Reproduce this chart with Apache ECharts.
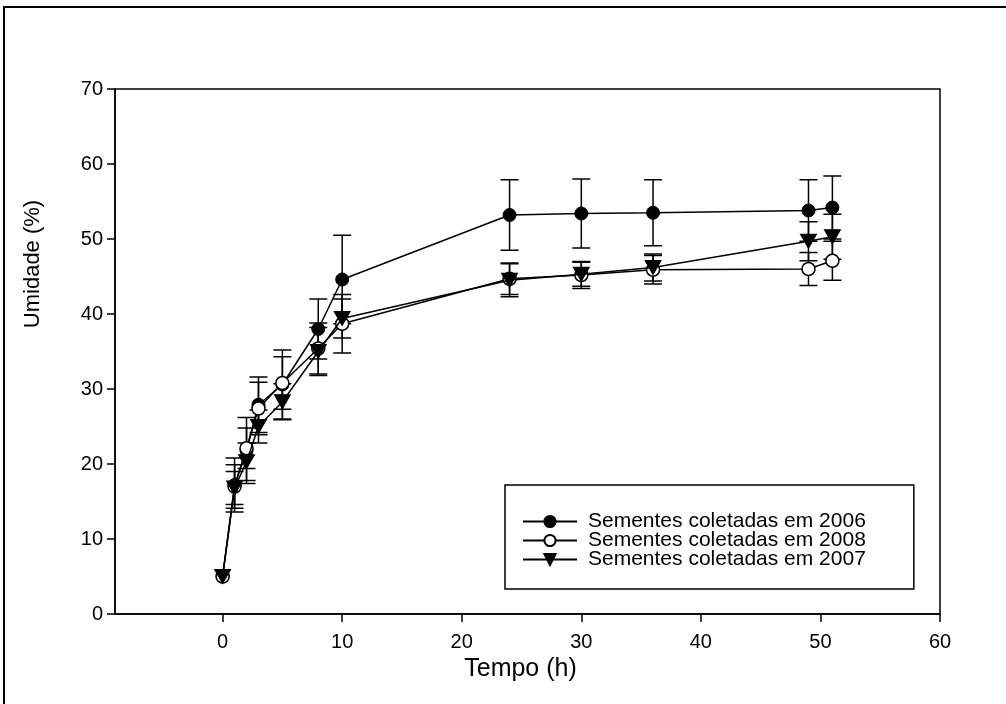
<!DOCTYPE html>
<html><head><meta charset="utf-8">
<script src="https://cdn.jsdelivr.net/npm/echarts@6/dist/echarts.min.js"></script>
<style>html,body{margin:0;padding:0;background:#fff}#c{width:1006px;height:704px}</style>
</head><body><div id="c"></div>
<script>
// Time points (h)
const times = [0, 1, 2, 3, 5, 8, 10, 24, 30, 36, 49, 51];
// Seeds collected in 2006
const s2006 = [5.0, 17.2, 21.8, 27.9, 30.6, 38.0, 44.6, 53.2, 53.4, 53.5, 53.8, 54.2];
const e2006 = [0, 3.6, 4.4, 3.7, 4.6, 4.0, 5.9, 4.7, 4.6, 4.4, 4.1, 4.2];
// Seeds collected in 2008
const s2008 = [5.0, 17.0, 22.1, 27.4, 30.8, 35.4, 38.7, 44.7, 45.2, 45.9, 46.0, 47.1];
const e2008 = [0, 2.9, 2.7, 3.5, 3.5, 3.4, 3.9, 2.1, 1.8, 1.9, 2.2, 2.6];
// Seeds collected in 2007
const s2007 = [5.0, 16.8, 20.3, 25.0, 28.3, 35.0, 39.4, 44.5, 45.3, 46.2, 49.7, 50.3];
const e2007 = [0, 2.2, 2.5, 2.2, 2.4, 3.2, 2.6, 2.2, 1.6, 1.8, 2.6, 3.0];
// Tick labels
const xTicks = [0, 10, 20, 30, 40, 50, 60];
const names = ['Sementes coletadas em 2006', 'Sementes coletadas em 2008', 'Sementes coletadas em 2007'];

const FONT = '"Liberation Sans", Arial, Helvetica, sans-serif';

function pairs(v) { return times.map((t, i) => [t, v[i]]); }
function bars(v, e) { return times.map((t, i) => [t, v[i] - e[i], v[i] + e[i]]); }

function errRender(params, api) {
  const x = api.value(0), lo = api.value(1), hi = api.value(2);
  if (!(hi - lo > 0)) return null;
  const pLo = api.coord([x, lo]);
  const pHi = api.coord([x, hi]);
  const hw = 9;
  const st = { stroke: '#000', lineWidth: 1.5 };
  return {
    type: 'group',
    children: [
      { type: 'line', shape: { x1: pLo[0], y1: pLo[1], x2: pHi[0], y2: pHi[1] }, style: st },
      { type: 'line', shape: { x1: pHi[0] - hw, y1: pHi[1], x2: pHi[0] + hw, y2: pHi[1] }, style: st },
      { type: 'line', shape: { x1: pLo[0] - hw, y1: pLo[1], x2: pLo[0] + hw, y2: pLo[1] }, style: st }
    ]
  };
}

function errSeries(v, e) {
  return {
    type: 'custom',
    renderItem: errRender,
    data: bars(v, e),
    encode: { x: 0, y: [1, 2] },
    z: 1,
    silent: true,
    animation: false
  };
}

const chart = echarts.init(document.getElementById('c'), null, { renderer: 'canvas' });
chart.setOption({
  backgroundColor: '#fff',
  animation: false,
  textStyle: { fontFamily: FONT },
  grid: {
    left: 115, right: 66, top: 89, bottom: 90,
    show: true, borderColor: '#000', borderWidth: 1.5, backgroundColor: 'transparent'
  },
  graphic: [
    {
      type: 'rect', silent: true, z: -1,
      shape: { x: 4, y: 7, width: 1100, height: 800 },
      style: { fill: 'none', stroke: '#000', lineWidth: 2 }
    },
    {
      type: 'text', x: 33, y: 264, rotation: Math.PI / 2,
      style: {
        text: 'Umidade (%)', fontSize: 22, fontFamily: FONT, fill: '#000',
        align: 'center', verticalAlign: 'middle'
      }
    }
  ],
  legend: {
    orient: 'vertical',
    left: 505, top: 485,
    data: names,
    itemWidth: 54, itemHeight: 14, itemGap: -2,
    padding: [26, 48, 19, 17],
    borderColor: '#000', borderWidth: 1.5, borderRadius: 0,
    backgroundColor: '#fff',
    textStyle: { fontSize: 21, lineHeight: 19, color: '#000', fontFamily: FONT, padding: [0, 0, 0, 6] }
  },
  xAxis: {
    type: 'value', min: -9, max: 60,
    splitLine: { show: false },
    axisLine: { onZero: false, lineStyle: { color: '#000', width: 1.5 } },
    axisTick: { length: 8, lineStyle: { color: '#000', width: 1.5 }, customValues: xTicks },
    axisLabel: { customValues: xTicks, fontSize: 20, color: '#000', margin: 18, fontFamily: FONT },
    name: 'Tempo (h)', nameLocation: 'middle', nameGap: 37,
    nameTextStyle: { fontSize: 25, color: '#000', fontFamily: FONT, padding: [0, 14, 0, 0] }
  },
  yAxis: {
    type: 'value', min: 0, max: 70, interval: 10,
    splitLine: { show: false },
    axisLine: { onZero: false, lineStyle: { color: '#000', width: 1.5 } },
    axisTick: { length: 8, lineStyle: { color: '#000', width: 1.5 } },
    axisLabel: { fontSize: 20, color: '#000', margin: 12, fontFamily: FONT }
  },
  series: [
    errSeries(s2006, e2006),
    errSeries(s2008, e2008),
    errSeries(s2007, e2007),
    {
      name: names[0], type: 'line', data: pairs(s2006),
      symbol: 'circle', symbolSize: 13, z: 3,
      lineStyle: { color: '#000', width: 1.5 },
      itemStyle: { color: '#000', borderColor: '#000', borderWidth: 1 }
    },
    {
      name: names[1], type: 'line', data: pairs(s2008),
      symbol: 'circle', symbolSize: 13, z: 4,
      lineStyle: { color: '#000', width: 1.5 },
      itemStyle: { color: '#fff', borderColor: '#000', borderWidth: 1.5 }
    },
    {
      name: names[2], type: 'line', data: pairs(s2007),
      symbol: 'triangle', symbolRotate: 180, symbolSize: [16, 14], z: 5,
      lineStyle: { color: '#000', width: 1.5 },
      itemStyle: { color: '#000', borderColor: '#000', borderWidth: 1 }
    }
  ]
});
</script>
</body></html>
